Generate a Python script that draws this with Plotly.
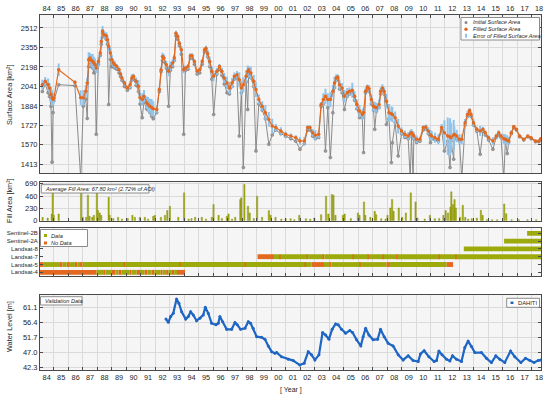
import plotly.graph_objects as go

# ---------------- Panel 1: surface area ----------------
area_years = [1984.20,1984.40,1984.60,1984.70,1984.80,1984.87,1984.94,1985.00,1985.33,1986.45,1986.85,1987.03,1987.20,1987.30,1987.40,1987.49,1987.60,1987.68,1987.76,1987.84,1987.92,1988.07,1988.20,1988.27,1988.36,1988.48,1988.62,1988.70,1988.78,1988.90,1989.00,1989.10,1989.20,1989.34,1989.50,1989.60,1989.70,1989.87,1990.07,1990.26,1990.38,1990.49,1990.68,1990.84,1990.95,1991.10,1991.22,1991.40,1991.50,1991.63,1991.75,1991.86,1992.10,1992.28,1992.40,1992.50,1992.60,1992.76,1992.92,1993.04,1993.20,1993.31,1993.43,1993.55,1993.66,1993.80,1993.96,1994.08,1994.26,1994.42,1994.54,1994.70,1994.89,1995.07,1995.24,1995.40,1995.50,1995.62,1995.76,1995.90,1996.03,1996.25,1996.43,1996.60,1996.76,1996.95,1997.12,1997.30,1997.46,1997.64,1997.80,1997.94,1998.08,1998.27,1998.38,1998.45,1998.60,1998.80,1998.95,1999.15,1999.38,1999.60,1999.84,2000.07,2000.32,2000.67,2001.00,2001.36,2001.70,2001.99,2002.29,2002.52,2002.68,2002.87,2003.05,2003.28,2003.45,2003.60,2003.75,2003.91,2004.09,2004.26,2004.37,2004.49,2004.60,2004.72,2004.90,2005.06,2005.25,2005.41,2005.60,2005.76,2005.92,2006.10,2006.29,2006.38,2006.52,2006.64,2006.76,2006.92,2007.07,2007.15,2007.26,2007.45,2007.56,2007.68,2007.80,2007.96,2008.14,2008.30,2008.37,2008.56,2008.77,2009.00,2009.23,2009.46,2009.60,2009.69,2009.80,2009.85,2010.04,2010.27,2010.50,2010.68,2010.85,2011.00,2011.08,2011.31,2011.54,2011.77,2011.96,2012.19,2012.35,2012.42,2012.60,2012.65,2012.81,2013.00,2013.16,2013.39,2013.56,2013.70,2013.80,2013.97,2014.20,2014.43,2014.62,2014.78,2015.01,2015.31,2015.54,2015.71,2015.87,2016.06,2016.17,2016.30,2016.40,2016.58,2016.75,2016.93,2017.16,2017.44,2017.72,2017.95,2018.25,2018.48,2018.62]
area_filled = [2055,2082,2055,2029,1975,1950,1935,1945,2175,2074,1949,1949,2002,2069,2256,2269,2250,2242,2230,2216,2189,2242,2309,2402,2488,2456,2448,2416,2362,2309,2256,2230,2216,2202,2176,2140,2109,2069,2029,2055,2109,2122,2082,2042,1949,1935,1962,1909,1895,1882,1870,1861,1855,2015,2176,2282,2269,2216,2162,2202,2229,2272,2469,2442,2389,2336,2176,2189,2202,2288,2288,2242,2162,2176,2242,2336,2349,2304,2242,2162,2122,2162,2202,2162,2109,2069,2029,2069,2122,2135,2095,2029,2055,2122,2160,2176,2149,2082,2015,1935,1882,1829,1775,1721,1709,1681,1655,1641,1628,1601,1601,1709,1709,1668,1647,1655,1895,1935,1962,1935,1935,2002,2069,2109,2117,2055,2029,1962,1989,2002,2010,1962,1895,1842,1815,1830,2002,2037,2021,1935,1882,1875,1869,1895,2002,2029,2002,1922,1829,1820,1815,1789,1721,1681,1655,1641,1660,1668,1650,1641,1615,1615,1709,1714,1681,1650,1641,1628,1615,1709,1668,1641,1635,1628,1650,1655,1641,1615,1615,1749,1815,1847,1815,1749,1695,1681,1695,1668,1628,1601,1641,1668,1641,1620,1615,1608,1601,1668,1717,1695,1641,1615,1641,1628,1601,1601,1620]
area_initial = [2000,2060,1990,1960,1880,1431,1830,1925,2055,2047,1300,1882,1940,1783,2200,2240,2200,2190,2150,2160,1655,2220,2290,2380,2470,2440,2420,2380,1895,2260,2200,2200,2190,2180,2150,2120,2090,2040,2010,2030,2090,2100,2050,2000,1900,1789,1920,1860,1850,1830,1800,1780,1830,2000,2160,2250,2240,2190,1882,2170,2200,2250,2450,2420,2370,2300,1655,2170,2180,2270,2270,2220,2140,2150,2220,2320,2330,2280,2200,2100,1815,2140,2180,2130,2060,1990,1980,2040,2100,2110,1641,1990,1388,2080,1855,2150,2110,2040,1521,1900,1850,1780,1575,1650,1690,1660,1640,1620,1600,1535,1580,1690,1690,1640,1620,1630,1880,1900,1521,1870,1468,1829,2030,2090,2100,2020,1990,1855,1960,1980,1990,1930,1860,1790,1790,1508,1990,2020,2000,1900,1850,1695,1840,1870,1980,2010,1980,1735,1780,1428,1588,1750,1481,1660,1630,1620,1300,1640,1300,1620,1590,1600,1690,1700,1660,1588,1620,1610,1600,1690,1521,1600,1388,1600,1455,1620,1620,1600,1300,1730,1800,1830,1800,1730,1680,1495,1680,1650,1610,1535,1630,1650,1630,1300,1600,1500,1590,1660,1710,1690,1635,1610,1635,1620,1595,1595,1615]
area_error = [40,35,50,40,60,60,50,40,50,15,60,60,50,40,60,40,50,60,50,50,40,40,30,40,40,30,30,30,40,50,40,30,30,20,20,20,20,20,20,30,30,20,30,50,40,50,50,50,60,60,70,60,30,20,20,30,30,30,40,40,30,30,20,20,20,30,30,20,20,20,20,20,20,20,20,20,20,30,40,40,40,30,20,30,40,50,50,40,30,30,60,60,60,50,50,30,50,50,60,40,40,60,60,60,30,30,20,20,20,30,30,20,20,30,40,30,20,50,60,50,60,50,50,30,20,40,40,50,40,30,60,40,40,50,40,40,30,20,30,40,40,40,40,40,30,30,30,60,70,60,60,50,60,30,30,30,30,30,30,30,30,20,20,20,30,40,40,40,40,30,100,150,150,120,120,60,50,40,40,30,30,20,20,30,20,40,20,20,20,30,20,20,20,40,40,40,30,20,10,10,10,10,10,10,10,10,10]
area_ticks = [1413, 1570, 1727, 1884, 2041, 2198, 2355, 2512]

# ---------------- Panel 2: fill area ----------------
fill_years = [1984.22,1984.57,1984.85,1984.92,1984.99,1985.33,1986.88,1987.00,1987.23,1987.35,1987.46,1987.65,1987.76,1987.97,1988.04,1988.16,1988.27,1988.78,1988.85,1989.10,1989.43,1989.70,1990.10,1990.42,1990.59,1990.93,1991.28,1991.50,1991.86,1991.97,1992.39,1992.67,1992.83,1993.01,1993.59,1993.99,1994.30,1994.50,1994.75,1995.21,1995.50,1995.90,1996.02,1996.37,1996.60,1996.94,1997.06,1997.30,1997.52,1997.87,1997.94,1998.15,1998.40,1998.52,1998.80,1999.03,1999.37,1999.84,1999.96,2000.30,2000.70,2001.00,2001.34,2001.60,2001.94,2002.40,2002.70,2002.98,2003.45,2003.79,2003.95,2004.19,2004.30,2004.44,2004.95,2005.07,2005.50,2005.99,2006.10,2006.41,2006.50,2006.85,2007.15,2007.25,2007.60,2007.90,2008.03,2008.23,2008.35,2008.45,2008.81,2009.05,2009.30,2009.64,2009.97,2010.10,2010.60,2010.96,2011.30,2011.60,2011.89,2012.05,2012.21,2012.38,2012.44,2012.55,2012.66,2012.75,2013.05,2013.23,2013.40,2013.60,2013.85,2014.20,2014.48,2014.60,2014.90,2015.25,2015.60,2016.09,2016.23,2016.60,2017.10,2017.70,2018.30]
fill_vals = [63,50,126,522,100,126,522,63,63,478,82,63,100,522,189,145,100,440,100,40,63,30,40,100,63,63,63,30,82,100,63,100,189,270,63,522,30,40,63,63,30,63,302,100,40,82,126,30,63,396,428,680,270,145,40,459,63,189,100,63,30,38,38,20,100,38,30,50,113,459,126,490,478,100,100,126,40,145,100,352,100,63,176,113,38,30,100,239,396,176,239,63,145,522,352,50,30,100,38,40,100,189,145,252,541,302,396,239,63,289,63,30,38,50,195,100,20,19,19,314,132,20,19,20,20]
fill_ticks = [0, 230, 460, 690]

# ---------------- Panel 3: sensor availability ----------------
sat_names = ["Landsat-4", "Landsat-5", "Landsat-7", "Landsat-8", "Sentinel-2A", "Sentinel-2B"]
seg_row = [0,0,0,0,0,0,0,0,0,0,0,0,0,0,0,0,0,0,0,0,0,0,0,
           1,1,1,1,1,1,1,1,1,1,1,1,1,1,1,1,1,1,1,1,1,1,1,1,1,1,1,
           2,2,2,2,2,2,2,2,2,2,2,2,2,2,2,2,2,2,2,2,
           3,4,5]
seg_start = [1984.04,1987.95,1988.40,1988.55,1989.00,1989.25,1989.45,1989.65,1990.20,1990.35,1990.70,1990.95,1991.25,1991.45,1991.75,1991.95,1992.35,1992.50,1992.75,1992.90,1993.10,1993.30,1993.50,
             1984.04,1984.25,1985.42,1985.60,1985.88,1986.10,1986.45,1986.62,1986.80,1986.98,1989.80,1989.90,1993.65,1993.75,1998.15,1998.25,2002.30,2002.40,2002.80,2003.65,2004.05,2004.15,2006.08,2006.18,2007.95,2008.20,2012.10,
             1999.06,2000.20,2000.55,2000.65,2002.45,2002.55,2003.55,2003.68,2005.62,2005.70,2006.66,2006.74,2007.69,2007.78,2008.62,2008.70,2011.55,2011.65,2012.70,2012.80,
             2013.30,2016.08,2017.67]
seg_end = [1987.95,1988.40,1988.55,1989.00,1989.25,1989.45,1989.65,1990.20,1990.35,1990.70,1990.95,1991.25,1991.45,1991.75,1991.95,1992.35,1992.50,1992.75,1992.90,1993.10,1993.30,1993.50,1994.05,
           1984.25,1985.42,1985.60,1985.88,1986.10,1986.45,1986.62,1986.80,1986.98,1989.80,1989.90,1993.65,1993.75,1998.15,1998.25,2002.30,2002.40,2002.80,2003.65,2004.05,2004.15,2006.08,2006.18,2007.95,2008.20,2012.10,2012.56,
           2000.20,2000.55,2000.65,2002.45,2002.55,2003.55,2003.68,2005.62,2005.70,2006.66,2006.74,2007.69,2007.78,2008.62,2008.70,2011.55,2011.65,2012.70,2012.80,2018.63,
           2018.63,2018.63,2018.63]
seg_state = ["N","D","N","D","N","D","N","D","N","D","N","D","N","D","N","D","N","D","N","D","N","D","N",
             "N","D","N","D","N","D","N","D","N","D","N","D","N","D","N","D","N","D","N","D","N","D","N","D","N","D","N",
             "N","D","N","D","N","D","N","D","N","D","N","D","N","D","N","D","N","D","N","D",
             "D","D","D"]

# ---------------- Panel 4: DAHITI water level ----------------
wl_years = [1992.74,1992.90,1993.06,1993.24,1993.47,1993.63,1993.82,1994.10,1994.28,1994.44,1994.62,1994.85,1995.08,1995.31,1995.45,1995.66,1995.89,1996.19,1996.35,1996.46,1996.65,1996.93,1997.27,1997.50,1997.66,1997.89,1998.19,1998.42,1998.58,1998.76,1999.00,1999.34,1999.57,1999.80,2000.03,2000.26,2000.38,2000.72,2001.18,2001.52,2001.98,2002.28,2002.56,2002.79,2003.02,2003.30,2003.55,2003.76,2003.99,2004.21,2004.45,2004.63,2004.86,2005.14,2005.43,2005.62,2005.90,2006.19,2006.35,2006.52,2006.75,2007.04,2007.35,2007.55,2007.80,2008.08,2008.42,2008.77,2009.11,2009.46,2009.80,2010.15,2010.31,2010.56,2010.89,2011.25,2011.42,2011.58,2011.80,2012.11,2012.34,2012.52,2012.80,2013.14,2013.37,2013.60,2013.83,2014.06,2014.52,2014.87,2015.21,2015.51,2015.79,2016.13,2016.53,2016.82,2017.24,2017.56,2017.86,2018.15,2018.43,2018.60]
wl_vals = [57.4,56.4,58.2,59.2,63.7,62.4,59.7,57.4,58.2,59.7,58.7,56.9,57.7,58.7,61.1,59.2,56.1,55.6,56.1,58.2,56.6,54.2,54.2,56.3,55.6,54.2,54.5,56.6,56.1,54.5,51.9,51.7,51.1,49.0,47.2,46.7,46.9,45.6,44.8,44.4,43.0,43.6,47.2,46.2,44.6,46.2,53.2,52.4,51.1,54.2,55.9,55.6,54.2,53.0,53.8,53.2,50.9,49.0,51.9,54.5,52.4,50.9,51.1,54.2,51.9,49.8,49.0,46.2,44.6,45.9,44.4,44.1,46.5,47.5,45.6,44.1,44.4,47.4,46.2,44.8,44.3,45.9,44.8,44.1,48.5,50.5,48.8,46.9,46.9,45.1,43.8,45.9,44.8,43.8,47.4,45.6,43.8,45.1,44.4,43.8,44.4,44.6]
wl_ticks = [42.3, 47.0, 51.7, 56.4, 61.1]

year_label_pos = [1984.5 + i for i in range(35)]
year_labels = ["%02d" % ((1984 + i) % 100) for i in range(35)]
year_grid = list(range(1985, 2019))

ORANGE = "#E2691F"
GREEN = "#9DAA0C"
GRAY = "#8A8A8A"
ERRBLUE = "#8EC4EC"
WLBLUE = "#1E66C4"
FRAME = "#4A4A4A"
GRID = "#DADADA"
TXT = "#262626"
FONT = "Liberation Sans"

fig = go.Figure()

# Panel 1 traces
fig.add_trace(go.Scatter(x=area_years, y=area_initial, mode="lines+markers", xaxis="x", yaxis="y",
                         line=dict(color=GRAY, width=1), marker=dict(color="#9A9A9A", size=3,
                         line=dict(color="#777777", width=0.5)), showlegend=False))
fig.add_trace(go.Scatter(x=area_years, y=area_filled, mode="markers", xaxis="x", yaxis="y",
                         marker=dict(color="rgba(0,0,0,0)", size=1),
                         error_y=dict(type="data", array=area_error, color=ERRBLUE, thickness=2, width=0),
                         showlegend=False))
fig.add_trace(go.Scatter(x=area_years, y=area_filled, mode="lines+markers", xaxis="x", yaxis="y",
                         line=dict(color=ORANGE, width=1.2), marker=dict(color=ORANGE, size=3.5),
                         showlegend=False))

# Panel 2 bars
fig.add_trace(go.Bar(x=fill_years, y=fill_vals, width=0.09, xaxis="x2", yaxis="y2",
                     marker=dict(color="#A4AE12", line=dict(color="#7E8600", width=0.4)),
                     showlegend=False))

# Panel 3 segments
for state, col in (("N", ORANGE), ("D", GREEN)):
    idx = [i for i, s in enumerate(seg_state) if s == state]
    fig.add_trace(go.Bar(orientation="h", xaxis="x3", yaxis="y3",
                         y=[seg_row[i] for i in idx],
                         base=[seg_start[i] for i in idx],
                         x=[seg_end[i] - seg_start[i] for i in idx],
                         width=0.62, marker=dict(color=col, line=dict(width=0)),
                         showlegend=False))

# Panel 4 water level
fig.add_trace(go.Scatter(x=wl_years, y=wl_vals, mode="lines+markers", xaxis="x4", yaxis="y4",
                         line=dict(color=WLBLUE, width=2.2), marker=dict(color=WLBLUE, size=3),
                         showlegend=False))

L, R, T, B, W, H = 40, 9, 15, 27, 550, 397
PW, PH = W - L - R, H - T - B


def px(xp):
    return (xp - L) / PW


def py(yp):
    return (H - B - yp) / PH


xcommon = dict(range=[1984.04, 2018.63], tickmode="array", tickvals=year_label_pos, ticktext=year_labels,
               ticks="", showgrid=False, showline=True, linecolor=FRAME, linewidth=1, mirror=True,
               zeroline=False, tickfont=dict(size=7.3, color=TXT, family=FONT),
               minor=dict(tickmode="array", tickvals=year_grid, ticks="inside", ticklen=3,
                          tickcolor=FRAME, showgrid=True, gridcolor=GRID, gridwidth=1))
ycommon = dict(showline=True, linecolor=FRAME, linewidth=1, mirror="ticks", ticks="inside", ticklen=3,
               tickcolor=FRAME, zeroline=False, showgrid=True, gridcolor=GRID,
               tickfont=dict(size=7.5, color=TXT, family=FONT))

fig.update_layout(
    width=W, height=H, margin=dict(l=L, r=R, t=T, b=B, autoexpand=False),
    paper_bgcolor="white", plot_bgcolor="#F5F5F5", barmode="overlay", showlegend=False,
    font=dict(family=FONT, color=TXT),
    xaxis=dict(xcommon, anchor="y", side="top", domain=[0, 1]),
    xaxis2=dict(xcommon, anchor="y2", showticklabels=False, matches="x"),
    xaxis3=dict(xcommon, anchor="y3", showticklabels=False, matches="x"),
    xaxis4=dict(xcommon, anchor="y4", matches="x"),
    yaxis=dict(ycommon, domain=[py(173.3), py(15)], range=[1341, 2616], tickvals=area_ticks),
    yaxis2=dict(ycommon, domain=[py(220.7), py(182)], range=[0, 725], tickvals=fill_ticks),
    yaxis3=dict(ycommon, domain=[py(276), py(228.3)], range=[-0.47, 5.64], tickvals=list(range(6)),
                ticktext=sat_names, showgrid=False, tickfont=dict(size=6, color=TXT, family=FONT)),
    yaxis4=dict(ycommon, domain=[py(370), py(294.7)], range=[41.45, 65.05], tickvals=wl_ticks,
                ticktext=["%.1f" % v for v in wl_ticks]),
)

shapes = []
ann = []


def box(x0, y0, x1, y1):
    shapes.append(dict(type="rect", xref="paper", yref="paper", x0=px(x0), x1=px(x1), y0=py(y1), y1=py(y0),
                       line=dict(color="#8C8C8C", width=1), fillcolor="white", layer="above"))


def text(xp, yp, s, size=5.6, anchor="left", italic=True, angle=0, color=TXT):
    ann.append(dict(xref="paper", yref="paper", x=px(xp), y=py(yp), text=("<i>%s</i>" % s) if italic else s,
                    showarrow=False, xanchor=anchor, yanchor="middle", textangle=angle,
                    font=dict(size=size, color=color, family=FONT)))


def sym(xc, yc, w, h, color, kind="rect"):
    shapes.append(dict(type="circle" if kind == "circle" else "rect", xref="paper", yref="paper",
                       x0=px(xc - w / 2), x1=px(xc + w / 2), y0=py(yc + h / 2), y1=py(yc - h / 2),
                       line=dict(width=0), fillcolor=color, layer="above"))


# Panel 1 legend
box(461, 17.5, 539.5, 40)
legend1 = ["Initial Surface Area", "Filled Surface Area", "Error of Filled Surface Area"]
ly = [22.5, 29.2, 35.8]
sym(466, ly[0], 3, 3, GRAY, "circle")
sym(466, ly[1], 3.4, 3.4, ORANGE, "circle")
sym(466, ly[2], 2, 4, ERRBLUE)
for t, y in zip(legend1, ly):
    text(470.5, y, t)

# Panel 2 info box
box(41.3, 184.7, 149, 193)
text(43, 188.9, "Average Fill Area: 67.80 km² (2.72% of AOI)")

# Panel 3 legend
box(40.5, 229.5, 87.5, 246.5)
sym(45.5, 235.5, 3, 3, GREEN)
sym(45.5, 243, 3, 3, ORANGE)
text(49, 235.5, "Data")
text(49, 243, "No Data")

# Panel 4 boxes
box(40.5, 296.7, 82, 305)
text(42.5, 300.9, "Validation Data")
box(506.7, 298.3, 539.5, 307.3)
sym(512, 302.8, 3, 2.5, WLBLUE)
text(516, 302.8, "DAHITI", italic=False, size=5.8)

# Axis titles
text(9, 95, "Surface Area [km²]", size=7.3, anchor="center", italic=False, angle=-90)
text(9, 201, "Fill Area [km²]", size=7.3, anchor="center", italic=False, angle=-90)
text(9, 327, "Water Level [m]", size=7.3, anchor="center", italic=False, angle=-90)
text(291, 390, "[ Year ]", size=7, anchor="center", italic=False)

fig.update_layout(shapes=shapes, annotations=ann)
fig.write_html("out.html", config={"displayModeBar": False},
               post_script="document.body.style.margin='0';document.body.style.padding='0';")
